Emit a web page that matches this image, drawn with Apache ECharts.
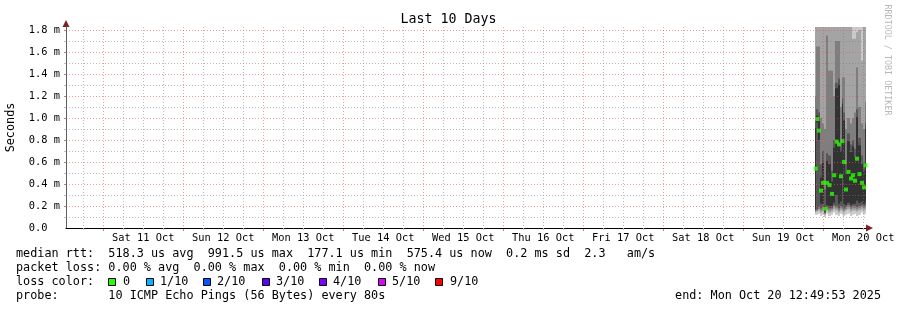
<!DOCTYPE html>
<html><head><meta charset="utf-8">
<script src="https://cdn.jsdelivr.net/npm/echarts@6/dist/echarts.min.js"></script>
<style>html,body{margin:0;padding:0;background:#fff}#c{width:897px;height:310px}</style>
</head><body><div id="c"></div>
<script>
// ---------- DATA (x values are hours since Fri 10 Oct 2025 00:00, y values in milliseconds) ----------
const viewStart = 12.8314;   // Fri 10 Oct 12:49:53
const viewEnd = 252.8314;    // Mon 20 Oct 12:49:53
const dayLabels = ['Sat 11 Oct','Sun 12 Oct','Mon 13 Oct','Tue 14 Oct','Wed 15 Oct','Thu 16 Oct','Fri 17 Oct','Sat 18 Oct','Sun 19 Oct','Mon 20 Oct'];
const dayLabelHours = [36,60,84,108,132,156,180,204,228,252];
const majorHours = [24,48,72,96,120,144,168,192,216,240];
const minorHours = [18,30,36,42,54,60,66,78,84,90,102,108,114,126,132,138,150,156,162,174,180,186,198,204,210,222,228,234,246,252];
const yLabelValues = [0,0.2,0.4,0.6,0.8,1.0,1.2,1.4,1.6,1.8];
const yMajorValues = [0.2,0.4,0.6,0.8,1.0,1.2,1.4,1.6,1.8];
const yMinorValues = [0.1,0.3,0.5,0.7,0.9,1.1,1.3,1.5,1.7];

// column boundaries of the consolidated data (hours)
const colEdges = [237.53,237.98,238.43,239.03,239.63,240.23,240.83,241.43,242.33,242.93,243.68,244.43,245.03,245.63,245.93,246.53,247.13,248.03,248.63,249.23,249.83,250.43,251.33,251.93,252.53,252.83];
// sorted ping round-trip times per column (ms)
const ping1  = [0.12,0.12,0.13,0.11,0.12,0.10,0.13,0.11,0.12,0.14,0.12,0.11,0.13,0.12,0.11,0.12,0.13,0.11,0.12,0.13,0.11,0.12,0.14,0.12,0.13];
const ping2  = [0.14,0.15,0.16,0.14,0.15,0.12,0.16,0.14,0.15,0.17,0.16,0.14,0.16,0.15,0.14,0.16,0.17,0.15,0.16,0.16,0.15,0.16,0.17,0.16,0.17];
const ping3  = [0.15,0.16,0.17,0.16,0.17,0.13,0.17,0.16,0.17,0.19,0.18,0.16,0.18,0.17,0.16,0.17,0.19,0.17,0.18,0.18,0.17,0.18,0.19,0.18,0.19];
const ping4  = [0.16,0.17,0.19,0.18,0.19,0.14,0.19,0.18,0.18,0.21,0.20,0.18,0.20,0.19,0.18,0.19,0.21,0.19,0.20,0.20,0.19,0.20,0.21,0.20,0.21];
const ping5  = [0.17,0.96,0.80,0.22,0.22,0.15,0.21,0.20,0.20,0.23,0.30,0.22,0.24,0.45,0.22,0.21,0.23,0.21,0.22,0.22,0.25,0.23,0.24,0.22,0.24];
const ping6  = [0.91,1.02,0.97,0.46,0.60,0.20,0.61,0.58,0.42,0.73,1.27,1.30,0.70,1.13,0.98,0.49,0.79,0.69,0.74,0.64,1.01,0.75,0.58,0.52,0.90];
const ping7  = [0.98,1.08,1.05,0.58,0.70,0.35,0.68,0.66,0.52,0.80,1.32,1.36,0.78,1.18,1.05,0.58,0.86,0.76,0.80,0.72,1.08,0.82,0.66,0.60,0.96];
const ping8  = [1.20,1.65,1.65,1.00,0.95,0.90,1.75,1.43,1.43,1.20,1.70,1.70,1.10,1.37,1.37,0.90,1.00,0.95,1.00,1.05,1.46,1.10,0.95,0.90,1.15];
const ping9  = [1.90,1.95,1.90,1.88,1.90,1.90,1.95,1.90,1.90,1.92,1.95,1.90,1.90,1.90,1.88,1.85,1.90,1.90,1.72,1.72,1.78,1.80,1.52,1.90,1.90];
const ping10 = [2.05,2.05,2.05,2.05,2.05,2.05,2.05,2.05,2.05,2.05,2.05,2.05,2.05,2.05,2.05,2.05,2.05,2.05,2.05,2.05,2.05,2.05,2.05,2.05,2.05];
const medianRtt = [0.54,0.99,0.885,0.34,0.41,0.175,0.41,0.39,0.31,0.48,0.785,0.76,0.47,0.79,0.60,0.35,0.51,0.45,0.48,0.43,0.63,0.49,0.41,0.37,0.57];

const statsLine = 'median rtt:  518.3 us avg  991.5 us max  177.1 us min  575.4 us now  0.2 ms sd  2.3   am/s';
const lossLine = 'packet loss: 0.00 % avg  0.00 % max  0.00 % min  0.00 % now';
const lossTitle = 'loss color:';
const lossLabels = ['0','1/10','2/10','3/10','4/10','5/10','9/10'];
const lossColors = ['#26ff00','#00b8ff','#0059ff','#5e00ff','#7e00ff','#dd00ff','#ff0000'];
const probeLine = 'probe:       10 ICMP Echo Pings (56 Bytes) every 80s';
const endLine = 'end: Mon Oct 20 12:49:53 2025';
const watermark = 'RRDTOOL / TOBI OETIKER';

// ---------- STYLE ----------
const MONO = '"DejaVu Sans Mono", monospace';
const bandColors = ['#cacaca','#a4a4a4','#7e7e7e','#585858','#323232'];
const minorGrid = 'rgba(120,120,120,0.5)';
const majorGrid = 'rgba(230,90,90,0.6)';
const arrowColor = '#802020';

const pings = [ping1,ping2,ping3,ping4,ping5,ping6,ping7,ping8,ping9,ping10];
const smokeData = medianRtt.map((m, i) => [colEdges[i], colEdges[i+1]].concat(pings.map(p => p[i])));
const medianData = medianRtt.map((m, i) => [(colEdges[i] + colEdges[i+1]) / 2, m]);

function renderSmoke(params, api) {
  const t0 = api.value(0), t1 = api.value(1);
  const cs = params.coordSys;
  const children = [];
  for (let b = 0; b < 5; b++) {
    const lo = api.value(2 + b), hi = api.value(11 - b);
    const pA = api.coord([t0, hi]), pB = api.coord([t1, lo]);
    const x0 = Math.round(pA[0]), x1 = Math.round(pB[0]);
    const r = echarts.graphic.clipRectByRect(
      {x: x0, y: pA[1], width: x1 - x0, height: pB[1] - pA[1]},
      {x: cs.x, y: cs.y, width: cs.width, height: cs.height});
    if (r) children.push({type: 'rect', shape: r, style: {fill: bandColors[b]}});
  }
  return {type: 'group', children};
}

const boxX = [108,146,203,262,319,378,435];
const labX = [123,160,217,276,333,392,450];
const graphics = [
  {type:'text', x:16, y:254, style:{text:statsLine, font:'11.8px '+MONO, fill:'#000', verticalAlign:'middle'}},
  {type:'text', x:16, y:268, style:{text:lossLine, font:'11.8px '+MONO, fill:'#000', verticalAlign:'middle'}},
  {type:'text', x:16, y:282, style:{text:lossTitle, font:'11.8px '+MONO, fill:'#000', verticalAlign:'middle'}},
  {type:'text', x:16, y:296, style:{text:probeLine, font:'11.8px '+MONO, fill:'#000', verticalAlign:'middle'}},
  {type:'text', x:881, y:296, style:{text:endLine, font:'11.8px '+MONO, fill:'#000', align:'right', verticalAlign:'middle'}},
  {type:'text', x:887, y:60, rotation:-Math.PI/2, style:{text:watermark, font:'8.4px '+MONO, fill:'#b8b8b8', align:'center', verticalAlign:'middle'}}
];
lossLabels.forEach((l, i) => {
  graphics.push({type:'rect', shape:{x:boxX[i]+0.5, y:278.5, width:7, height:7}, style:{fill:lossColors[i], stroke:'#000', lineWidth:1}});
  graphics.push({type:'text', x:labX[i], y:282, style:{text:l, font:'11.8px '+MONO, fill:'#000', verticalAlign:'middle'}});
});

const chart = echarts.init(document.getElementById('c'), null, {renderer:'canvas'});
chart.setOption({
  animation: false,
  backgroundColor: '#ffffff',
  title: {text:'Last 10 Days', left:'center', top:13, padding:0,
          textStyle:{fontFamily:MONO, fontSize:13.3, fontWeight:'normal', color:'#000'}},
  grid: {left:66, right:31, top:27, bottom:82, containLabel:false, outerBoundsMode:'none'},
  xAxis: [
    {type:'value', min:viewStart, max:viewEnd, z:4, position:'bottom',
     axisLine:{show:true, onZero:false, lineStyle:{color:'#000', width:1}},
     axisTick:{show:true, customValues:minorHours, length:2, lineStyle:{color:'#c0c0c0'}},
     splitLine:{show:true, lineStyle:{color:minorGrid, width:1, type:[1,2]}},
     axisLabel:{show:true, customValues:dayLabelHours, margin:5, fontFamily:MONO, fontSize:10.35, color:'#000',
                formatter: v => dayLabels[dayLabelHours.indexOf(Math.round(v))]}},
    {type:'value', min:viewStart, max:viewEnd, z:3, position:'bottom',
     axisLine:{show:true, onZero:false, symbol:['none','triangle'], symbolSize:[7,7], symbolOffset:[0,3.5], lineStyle:{color:arrowColor, width:1}},
     axisTick:{show:true, customValues:majorHours, length:3, lineStyle:{color:'#e07070'}},
     splitLine:{show:true, lineStyle:{color:majorGrid, width:1, type:[1,2]}},
     axisLabel:{show:false}}
  ],
  yAxis: [
    {type:'value', min:0, max:1.8273, z:4, position:'left',
     name:'Seconds', nameLocation:'middle', nameRotate:90, nameGap:49,
     nameTextStyle:{fontFamily:MONO, fontSize:11.8, color:'#000'},
     axisLine:{show:true, onZero:false, lineStyle:{color:'#5f5f5f', width:1}},
     axisTick:{show:true, customValues:yMajorValues, length:2, lineStyle:{color:'#e07070'}},
     splitLine:{show:true, lineStyle:{color:majorGrid, width:1, type:[1,2]}},
     axisLabel:{show:true, customValues:yLabelValues, margin:6, fontFamily:MONO, fontSize:10.35, color:'#000',
                formatter: v => v === 0 ? '0.0  ' : v.toFixed(1) + ' m'}},
    {type:'value', min:0, max:1.8273, z:3, position:'left',
     axisLine:{show:true, onZero:false, symbol:['none','triangle'], symbolSize:[7,7], symbolOffset:[0,3.5], lineStyle:{color:arrowColor, width:1}},
     axisTick:{show:true, customValues:yMinorValues, length:2, lineStyle:{color:'#c0c0c0'}},
     splitLine:{show:true, lineStyle:{color:minorGrid, width:1, type:[1,2]}},
     axisLabel:{show:false}}
  ],
  series: [
    {type:'custom', name:'smoke', xAxisIndex:0, yAxisIndex:0, renderItem:renderSmoke, data:smokeData,
     encode:{x:[0,1], y:[2,3,4,5,6,7,8,9,10,11]}, clip:true, z:1, silent:true},
    {type:'scatter', name:'median', xAxisIndex:0, yAxisIndex:0, data:medianData, symbol:'rect', symbolSize:[4,4],
     itemStyle:{color:lossColors[0]}, z:2, silent:true}
  ],
  graphic: graphics
});
</script></body></html>
